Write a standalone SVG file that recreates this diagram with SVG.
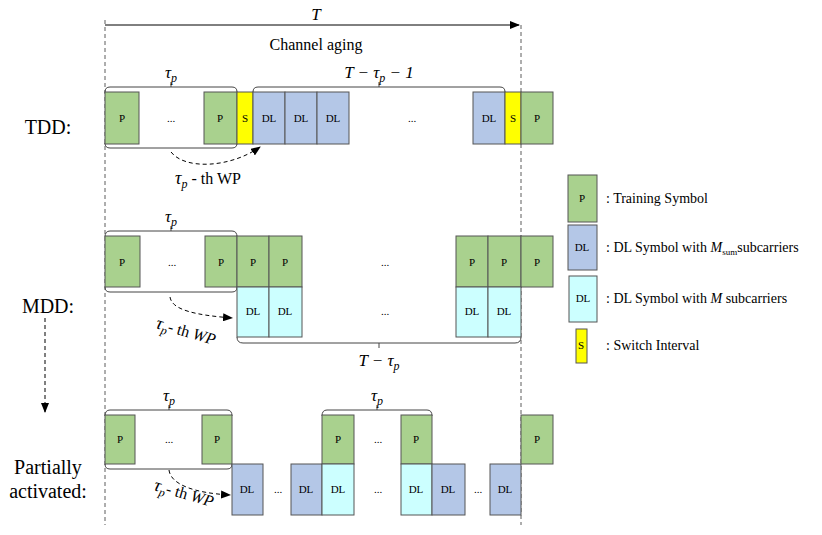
<svg xmlns="http://www.w3.org/2000/svg" width="822" height="535" viewBox="0 0 822 535">
<style>
text{font-family:"Liberation Serif","DejaVu Serif",serif;fill:#000}
.p{fill:#a9d18e;stroke:#555;stroke-width:1}
.d{fill:#b4c7e7;stroke:#555;stroke-width:1}
.c{fill:#ccffff;stroke:#555;stroke-width:1}
.s{fill:#ffff00;stroke:#555;stroke-width:1}
.t{font-size:11px;text-anchor:middle}
.br{fill:none;stroke:#444;stroke-width:1}
.dash{fill:none;stroke:#000;stroke-width:1;stroke-dasharray:4,3}
.dv{fill:none;stroke:#333;stroke-width:0.8;stroke-dasharray:4,3}
.big{font-size:20px;text-anchor:middle}
.m{font-size:17px;font-style:italic;text-anchor:middle}
.lg{font-size:14px}
</style>
<defs>
<marker id="ah" markerWidth="10" markerHeight="8" refX="9" refY="4" orient="auto" markerUnits="userSpaceOnUse"><path d="M0,0L10,4L0,8z" fill="#000"/></marker>
</defs>
<g id="axes">
<path class="dv" d="M105,20V525M521,25V525"/>
<path d="M105,25H519" stroke="#000" stroke-width="1" marker-end="url(#ah)"/>
<text x="316" y="20" class="m" font-size="20">T</text>
<text x="316" y="50" font-size="16" text-anchor="middle">Channel aging</text>
</g>
<g id="labels">
<text x="48" y="134" class="big">TDD:</text>
<text x="48" y="313" class="big">MDD:</text>
<text x="48" y="474" class="big">Partially</text>
<text x="48" y="498" class="big">activated:</text>
</g>
<g id="connectors">
<path class="dash" d="M45,318V412" marker-end="url(#ah)" stroke-dasharray="8,5"/>
<path class="dash" d="M171,152C185,170 230,168 260,147" stroke-dasharray="7,4" marker-end="url(#ah)"/>
<path class="dash" d="M170,297C172,310 195,315 232,318" stroke-dasharray="7,4" marker-end="url(#ah)"/>
<path class="dash" d="M169,470C171,485 195,493 230,495" stroke-dasharray="7,4" marker-end="url(#ah)"/>
</g>
<g id="tdd">
<path class="br" d="M105,93V92Q105,87 110,87H232Q237,87 237,92V93M171,87V82"/>
<path class="br" d="M105,144V143Q105,148 110,148H232Q237,148 237,143V144"/>
<path class="br" d="M253,92Q253,87 258,87H500Q505,87 505,92M379,87V82"/>
<text x="171" y="78" class="m">τ<tspan font-size="12" dy="4">p</tspan></text>
<text x="379" y="78" class="m">T − τ<tspan font-size="12" dy="4">p</tspan><tspan dy="-4"> − 1</tspan></text>
<rect class="p" x="105" y="92" width="34" height="52"/><text class="t" x="122" y="122">P</text>
<text class="t" x="171" y="122">...</text>
<rect class="p" x="204" y="92" width="33" height="52"/><text class="t" x="220" y="122">P</text>
<rect class="s" x="237" y="92" width="16" height="52"/><text class="t" x="245" y="122">S</text>
<rect class="d" x="253" y="92" width="32" height="52"/><text class="t" x="269" y="122">DL</text>
<rect class="d" x="285" y="92" width="32" height="52"/><text class="t" x="301" y="122">DL</text>
<rect class="d" x="317" y="92" width="32" height="52"/><text class="t" x="333" y="122">DL</text>
<text class="t" x="412" y="122">...</text>
<rect class="d" x="473" y="92" width="32" height="52"/><text class="t" x="489" y="122">DL</text>
<rect class="s" x="505" y="92" width="16" height="52"/><text class="t" x="513" y="122">S</text>
<rect class="p" x="521" y="92" width="32" height="52"/><text class="t" x="537" y="122">P</text>
<text x="175" y="184" font-size="16"><tspan font-style="italic" font-size="18">τ</tspan><tspan font-style="italic" font-size="12" dy="4">p</tspan><tspan dy="-4"> - th WP</tspan></text>
</g>
<g id="mdd">
<path class="br" d="M105,237Q105,231 110,231H232Q237,231 237,237M171,231V226"/>
<path class="br" d="M105,287Q105,292 110,292H232Q237,292 237,287"/>
<path class="br" d="M237,337Q237,343 243,343H515Q521,343 521,337M379,343V348"/>
<text x="171" y="222" class="m">τ<tspan font-size="12" dy="4">p</tspan></text>
<text x="379" y="366" class="m">T − τ<tspan font-size="12" dy="4">p</tspan></text>
<rect class="p" x="105" y="236" width="35" height="51"/><text class="t" x="122" y="266">P</text>
<text class="t" x="172" y="266">...</text>
<rect class="p" x="205" y="236" width="32" height="51"/><text class="t" x="221" y="266">P</text>
<rect class="p" x="237" y="236" width="32" height="51"/><text class="t" x="253" y="266">P</text>
<rect class="p" x="269" y="236" width="33" height="51"/><text class="t" x="285" y="266">P</text>
<text class="t" x="385" y="266">...</text>
<rect class="p" x="456" y="236" width="32" height="51"/><text class="t" x="472" y="266">P</text>
<rect class="p" x="488" y="236" width="33" height="51"/><text class="t" x="504" y="266">P</text>
<rect class="p" x="521" y="236" width="32" height="51"/><text class="t" x="537" y="266">P</text>
<rect class="c" x="237" y="287" width="32" height="50"/><text class="t" x="253" y="315">DL</text>
<rect class="c" x="269" y="287" width="33" height="50"/><text class="t" x="285" y="315">DL</text>
<text class="t" x="385" y="315">...</text>
<rect class="c" x="456" y="287" width="32" height="50"/><text class="t" x="472" y="315">DL</text>
<rect class="c" x="488" y="287" width="33" height="50"/><text class="t" x="504" y="315">DL</text>
<text x="0" y="0" font-size="16" transform="translate(155,328) rotate(16)"><tspan font-style="italic" font-size="18">τ</tspan><tspan font-style="italic" font-size="12" dy="4">p</tspan><tspan dy="-4">- th </tspan><tspan font-style="italic">WP</tspan></text>
</g>
<g id="partial">
<path class="br" d="M105,416Q105,410 110,410H227Q232,410 232,416M169,410V405"/>
<path class="br" d="M105,464Q105,469 110,469H227Q232,469 232,464"/>
<path class="br" d="M322,416Q322,410 327,410H427Q432,410 432,416M377,410V405"/>
<text x="169" y="401" class="m">τ<tspan font-size="12" dy="4">p</tspan></text>
<text x="377" y="401" class="m">τ<tspan font-size="12" dy="4">p</tspan></text>
<rect class="p" x="105" y="415" width="30" height="49"/><text class="t" x="120" y="443">P</text>
<text class="t" x="169" y="443">...</text>
<rect class="p" x="202" y="415" width="30" height="49"/><text class="t" x="217" y="443">P</text>
<rect class="d" x="232" y="464" width="31" height="51"/><text class="t" x="247" y="493">DL</text>
<text class="t" x="278" y="493">...</text>
<rect class="d" x="291" y="464" width="31" height="51"/><text class="t" x="306" y="493">DL</text>
<rect class="p" x="322" y="415" width="32" height="49"/><text class="t" x="338" y="443">P</text>
<rect class="c" x="322" y="464" width="32" height="51"/><text class="t" x="338" y="493">DL</text>
<text class="t" x="378" y="443">...</text>
<text class="t" x="378" y="493">...</text>
<rect class="p" x="401" y="415" width="31" height="49"/><text class="t" x="416" y="443">P</text>
<rect class="c" x="401" y="464" width="31" height="51"/><text class="t" x="416" y="493">DL</text>
<rect class="d" x="432" y="464" width="33" height="51"/><text class="t" x="448" y="493">DL</text>
<text class="t" x="478" y="493">...</text>
<rect class="d" x="490" y="464" width="31" height="51"/><text class="t" x="505" y="493">DL</text>
<rect class="p" x="521" y="415" width="32" height="49"/><text class="t" x="537" y="443">P</text>
<text x="0" y="0" font-size="16" transform="translate(153,490) rotate(16)"><tspan font-style="italic" font-size="18">τ</tspan><tspan font-style="italic" font-size="12" dy="4">p</tspan><tspan dy="-4">- th </tspan><tspan font-style="italic">WP</tspan></text>
</g>
<g id="legend">
<rect class="p" x="568" y="175" width="29" height="47"/><text class="t" x="582" y="202">P</text>
<text class="lg" x="606" y="203">: Training Symbol</text>
<rect class="d" x="568" y="225" width="29" height="45"/><text class="t" x="582" y="251">DL</text>
<text class="lg" x="606" y="252">: DL Symbol with <tspan font-style="italic">M</tspan><tspan font-size="9" dy="3">sum</tspan><tspan dy="-3">subcarriers</tspan></text>
<rect class="c" x="569" y="276" width="28" height="46"/><text class="t" x="583" y="302">DL</text>
<text class="lg" x="606" y="303">: DL Symbol with <tspan font-style="italic">M</tspan> subcarriers</text>
<rect class="s" x="576" y="329" width="11" height="34"/><text class="t" x="581" y="349" font-size="10">S</text>
<text class="lg" x="606" y="350">: Switch Interval</text>
</g>
</svg>
